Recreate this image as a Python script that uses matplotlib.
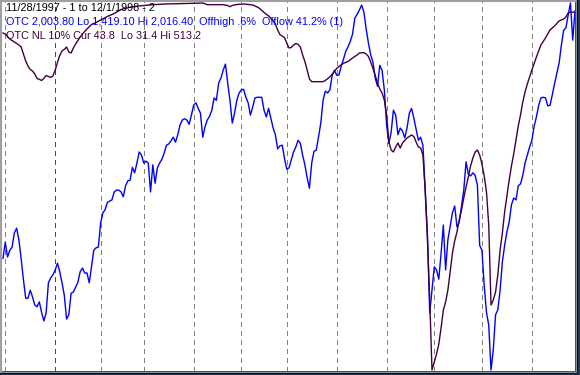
import numpy as np
import matplotlib
matplotlib.use("Agg")
import matplotlib.pyplot as plt
from matplotlib.lines import Line2D

# OTC close, one value per trading day from 11/28/1997 (day 0) to 12/1/1998
otc_close = [
    1601, 1627, 1603, 1614, 1619, 1642, 1650, 1631, 1600, 1566,
    1536, 1536, 1549, 1538, 1525, 1522, 1530, 1513, 1499, 1512,
    1561, 1569, 1574, 1582, 1593, 1579, 1561, 1541, 1502, 1509,
    1544, 1546, 1554, 1562, 1579, 1585, 1577, 1577, 1561, 1587,
    1614, 1618, 1619, 1658, 1675, 1680, 1692, 1694, 1696, 1709,
    1712, 1712, 1709, 1701, 1719, 1727, 1728, 1749, 1740, 1756,
    1774, 1769, 1756, 1759, 1756, 1709, 1753, 1723, 1748, 1756,
    1762, 1772, 1785, 1787, 1792, 1798, 1790, 1802, 1818, 1826,
    1828, 1826, 1819, 1834, 1850, 1854, 1845, 1837, 1798, 1815,
    1826, 1832, 1842, 1862, 1858, 1886, 1894, 1907, 1917, 1886,
    1858, 1821, 1837, 1858, 1870, 1875, 1876, 1863, 1854, 1834,
    1847, 1862, 1863, 1863, 1863, 1842, 1831, 1845, 1829, 1813,
    1802, 1779, 1784, 1785, 1764, 1746, 1748, 1761, 1774, 1782,
    1793, 1788, 1769, 1753, 1732, 1715, 1756, 1775, 1777, 1798,
    1821, 1858, 1873, 1870, 1875, 1898, 1907, 1899, 1899, 1914,
    1925, 1938, 1945, 1954, 1966, 1992, 1998, 2005, 2013, 2002,
    1974, 1951, 1932, 1920, 1894, 1881, 1915, 1907, 1875, 1818,
    1788, 1806, 1842, 1834, 1802, 1813, 1808, 1797, 1813, 1837,
    1845, 1829, 1811, 1793, 1798, 1785, 1712, 1639, 1512, 1549,
    1587, 1582, 1567, 1609, 1655, 1582, 1631, 1653, 1675, 1686,
    1652, 1660, 1686, 1712, 1758, 1738, 1735, 1740, 1736, 1720,
    1622, 1614, 1557, 1513, 1492, 1419.1, 1452, 1509, 1517, 1549,
    1595, 1622, 1644, 1660, 1688, 1699, 1696, 1719, 1722, 1736,
    1756, 1769, 1782, 1793, 1816, 1831, 1850, 1862, 1863, 1862,
    1849, 1850, 1867, 1885, 1902, 1919, 1948, 1972, 1976, 1997,
    2016.4, 1956, 2003.8,
]
otc_days = np.arange(len(otc_close))

# OTC new lows, 10% smoothed (plotted on an inverted scale)
nl_days = [
    0, 1, 3, 5, 7, 8, 9, 10, 11, 12, 13, 14, 15, 16, 17, 18, 19, 20, 21, 22,
    23, 24, 25, 26, 27, 28, 29, 30, 31, 32, 33, 34, 35, 37, 39, 41, 43, 46, 49, 52,
    56, 60, 66, 72, 78, 84, 88, 90, 97, 99, 100, 101, 103, 106, 110, 112, 113, 115, 117, 118,
    120, 121, 122, 123, 124, 125, 126, 127, 128, 129, 130, 131, 132, 133, 134, 135, 136, 138, 141, 142,
    144, 146, 147, 148, 150, 152, 154, 156, 157, 159, 160, 161, 162, 163, 164, 165, 166, 167, 168, 169,
    170, 171, 172, 173, 174, 175, 176, 178, 180, 181, 182, 183, 184, 185, 186, 187, 188, 189, 190, 191,
    192, 193, 194, 195, 196, 197, 198, 199, 200, 201, 202, 203, 204, 205, 206, 207, 208, 209, 210, 211,
    212, 213, 214, 215, 216, 217, 218, 219, 220, 221, 222, 223, 224, 225, 226, 227, 228, 229, 230, 231,
    232, 233, 235, 237, 239, 241, 243, 245, 247, 248, 249, 250, 252,
]
nl_vals = [
    70.8, 72.1, 78.7, 82.6, 86.5, 89.2, 98.4, 107.5, 114.1, 118.7, 120.7, 124.6, 130.5, 131.6, 133.1, 130.5, 126.6, 127.9, 129.2, 127.2,
    119.4, 109.5, 100.3, 94.4, 92.4, 89.2, 95.7, 97.0, 90.5, 85.2, 80.6, 76.0, 72.1, 65.5, 59.6, 57.0, 53.7, 49.1, 45.2, 39.9,
    37.0, 35.3, 33.6, 32.7, 32.3, 31.8, 31.4, 33.6, 33.6, 34.7, 36.3, 34.7, 33.4, 32.7, 34.0, 36.7, 38.4, 43.9, 48.5, 51.1,
    59.0, 66.8, 72.8, 74.7, 76.7, 83.9, 90.5, 89.8, 86.5, 84.6, 85.9, 89.2, 99.7, 108.2, 119.4, 131.2, 134.7, 134.7, 134.7, 133.1,
    128.5, 121.3, 117.4, 114.8, 110.6, 108.2, 103.6, 99.7, 97.0, 96.6, 98.4, 101.6, 108.9, 117.4, 126.6, 136.4, 144.3, 149.6, 158.7, 178.4,
    213.9, 224.4, 227.0, 220.4, 215.2, 221.8, 215.2, 208.6, 204.7, 206.7, 213.9, 220.4, 221.8, 230.9, 276.9, 342.5, 421.3, 513.2, 502.7, 492.2,
    479.1, 458.1, 434.4, 423.9, 408.2, 384.5, 359.6, 343.8, 332.0, 316.3, 303.2, 287.4, 273.0, 259.8, 245.4, 234.9, 227.0, 224.4, 230.9, 242.8,
    258.5, 279.5, 322.8, 427.9, 421.3, 410.8, 388.4, 355.7, 333.3, 305.8, 284.8, 263.8, 245.4, 229.6, 211.3, 192.9, 178.4, 161.4, 148.2, 137.7,
    128.5, 119.4, 102.3, 86.5, 77.3, 66.8, 61.6, 55.0, 52.4, 49.8, 44.5, 43.2, 43.8,
]

# first trading day of each month (Dec 1997 .. Nov 1998)
month_starts = [1, 23, 43, 62, 84, 105, 125, 147, 169, 190, 211, 233]
year_start = 23

header = "11/28/1997 - 1 to 12/1/1998 - 2"
otc_label = "OTC 2,003.80 Lo 1,419.10 Hi 2,016.40  Offhigh .6%  Offlow 41.2% (1)"
nl_label = "OTC NL 10% Cur 43.8  Lo 31.4 Hi 513.2"

blue = "#0000ff"
purple = "#400040"

W, H = 580, 375
fig = plt.figure(figsize=(W / 100, H / 100), dpi=100, facecolor="#1f3a64")
ax = fig.add_axes([1 / W, 4 / H, 574 / W, 370 / H])
ax.set_facecolor("white")

for d in month_starts:
    ax.axvline(d, color="red" if d == year_start else "#808080",
               lw=0.75, ls=(0, (4, 4)), antialiased=False, zorder=1)

ax.plot(otc_days, otc_close, color=blue, lw=1.0, zorder=3)
ax.set_xlim(-0.88, 252.0)
ax.set_ylim(1417.5, 2019.7)

ax2 = ax.twinx()
ax2.plot(nl_days, nl_vals, color=purple, lw=1.0, zorder=4)
ax2.set_ylim(514.5, 28.8)

for a in (ax, ax2):
    a.set_xticks([])
    a.set_yticks([])
    for s in a.spines.values():
        s.set_visible(False)

# window frame lines
fig.add_artist(Line2D([1 / W, 1 / W], [4 / H, 1 - 1 / H], color="#a0a0a0", lw=1.5))
fig.add_artist(Line2D([1 / W, 575 / W], [1 - 1 / H, 1 - 1 / H], color="#a0a0a0", lw=1.5))
fig.add_artist(Line2D([575.5 / W, 575.5 / W], [4 / H, 1], color="#b0b0b0", lw=1.0))
fig.add_artist(Line2D([0, 576 / W], [3.5 / H, 3.5 / H], color="#b0b0b0", lw=1.0))
fig.add_artist(Line2D([576.5 / W, 576.5 / W], [3 / H, 1], color="#101010", lw=1.0))
fig.add_artist(Line2D([0, 577 / W], [2.5 / H, 2.5 / H], color="#101010", lw=1.0))

font = ["Liberation Sans", "DejaVu Sans"]
fig.text(6 / W, 1 - 3 / H, header, color="black", fontsize=7.8,
         family=font, va="top", ha="left")
fig.text(6 / W, 1 - 17 / H, otc_label, color=blue, fontsize=7.8,
         family=font, va="top", ha="left")
fig.text(6 / W, 1 - 31 / H, nl_label, color=purple, fontsize=7.8,
         family=font, va="top", ha="left")

fig.savefig("out.png", dpi=100, facecolor=fig.get_facecolor())
